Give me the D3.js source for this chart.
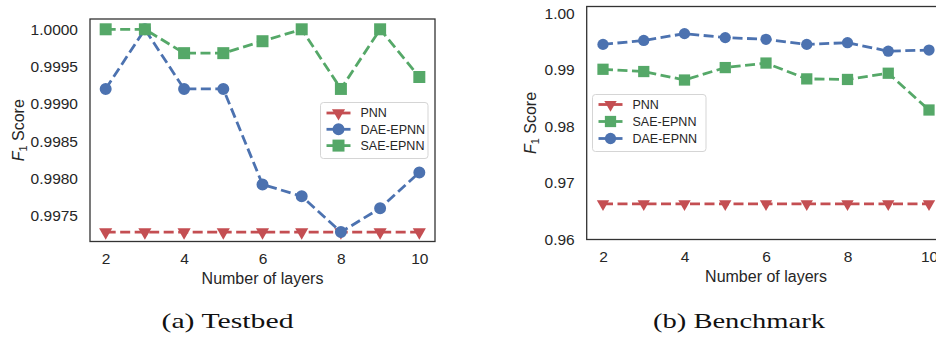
<!DOCTYPE html>
<html>
<head>
<meta charset="utf-8">
<script src="https://cdn.jsdelivr.net/npm/d3@7"></script>
<style>
  html, body { margin: 0; padding: 0; background: #fff; }
  svg { display: block; }
</style>
</head>
<body>
<script>
// number of layers, shared by both panels
const layers = [2, 3, 4, 5, 6, 7, 8, 9, 10];
const xTicks = [2, 4, 6, 8, 10];

// (a) Testbed
const testbedPNN = [0.99728, 0.99728, 0.99728, 0.99728, 0.99728, 0.99728, 0.99728, 0.99728, 0.99728];
const testbedDAE = [0.99920, 1.00000, 0.99920, 0.99920, 0.99792, 0.99776, 0.99728, 0.99760, 0.99808];
const testbedSAE = [1.00000, 1.00000, 0.99968, 0.99968, 0.99984, 1.00000, 0.99920, 1.00000, 0.99936];
const testbedTicks = [0.9975, 0.9980, 0.9985, 0.9990, 0.9995, 1.0000];

// (b) Benchmark
const benchPNN = [0.9663, 0.9663, 0.9663, 0.9663, 0.9663, 0.9663, 0.9663, 0.9663, 0.9663];
const benchSAE = [0.9901, 0.9897, 0.9882, 0.9904, 0.9912, 0.9884, 0.9883, 0.9894, 0.9829];
const benchDAE = [0.9945, 0.9952, 0.9964, 0.9957, 0.9954, 0.9945, 0.9948, 0.9933, 0.9935];
const benchTicks = [0.96, 0.97, 0.98, 0.99, 1.00];

const red = "#C44E52", blue = "#4C72B0", green = "#55A868";

const svg = d3.select("body").append("svg")
    .attr("width", 936)
    .attr("height", 339);

// one panel
function panel(opt) {
    const x = d3.scaleLinear().domain([1.6, 10.4]).range([opt.left, opt.right]);
    const y = d3.scaleLinear().domain(opt.ydomain).range([opt.bottom, opt.top]);
    const g = svg.append("g");

    // y axis labels, no tick marks
    g.append("g")
        .attr("transform", `translate(${opt.left},0)`)
        .call(d3.axisLeft(y).tickValues(opt.yticks).tickFormat(d3.format(opt.yfmt))
            .tickSize(0).tickPadding(12))
        .call(a => a.select(".domain").remove())
        .selectAll("text")
            .attr("font-family", "Liberation Sans, Arial, sans-serif")
            .attr("font-size", 15.5)
            .attr("fill", "#262626");

    g.append("g")
        .attr("transform", `translate(0,${opt.bottom})`)
        .call(d3.axisBottom(x).tickValues(xTicks).tickSize(0).tickPadding(11))
        .call(a => a.select(".domain").remove())
        .selectAll("text")
            .attr("font-family", "Liberation Sans, Arial, sans-serif")
            .attr("font-size", 15.5)
            .attr("fill", "#262626");

    // series
    opt.series.forEach(s => {
        const pts = layers.map((l, i) => [l, s.values[i]]);
        g.append("path")
            .datum(pts)
            .attr("fill", "none")
            .attr("stroke", s.color)
            .attr("stroke-width", 2.8)
            .attr("stroke-dasharray", "10,4.5")
            .attr("d", d3.line().x(d => x(d[0])).y(d => y(d[1])));
        g.selectAll(null)
            .data(pts)
            .join("path")
                .attr("transform", d => `translate(${x(d[0])},${y(d[1])})` + (s.flip ? " rotate(180)" : ""))
                .attr("d", d3.symbol(s.symbol, s.size * opt.mscale)())
                .attr("fill", s.color);
    });

    // frame
    g.append("rect")
        .attr("x", opt.left).attr("y", opt.top)
        .attr("width", opt.right - opt.left).attr("height", opt.bottom - opt.top)
        .attr("fill", "none").attr("stroke", "#333").attr("stroke-width", 1.3);

    // axis titles
    g.append("text")
        .attr("x", (opt.left + opt.right) / 2).attr("y", opt.bottom + 42)
        .attr("text-anchor", "middle")
        .attr("font-family", "Liberation Sans, Arial, sans-serif")
        .attr("font-size", 16).attr("fill", "#262626")
        .text("Number of layers");

    const yl = g.append("text")
        .attr("transform", `translate(${opt.ylabelX},${(opt.top + opt.bottom) / 2}) rotate(-90)`)
        .attr("text-anchor", "middle")
        .attr("font-family", "Liberation Sans, Arial, sans-serif")
        .attr("font-size", 16).attr("fill", "#262626");
    yl.append("tspan").attr("font-style", "italic").text("F");
    yl.append("tspan").attr("font-size", 11).attr("dy", 3).text("1");
    yl.append("tspan").attr("dy", -3).text(" Score");

    // legend
    const lg = opt.legend;
    g.append("rect")
        .attr("x", lg.x).attr("y", lg.y).attr("width", lg.w).attr("height", lg.h)
        .attr("rx", 3)
        .attr("fill", "#fff").attr("fill-opacity", 0.85)
        .attr("stroke", "#d5d5d5").attr("stroke-width", 1);
    lg.order.forEach((s, i) => {
        const cy = lg.rowY + i * lg.step;
        g.append("line")
            .attr("x1", lg.x + 6).attr("x2", lg.x + 30)
            .attr("y1", cy).attr("y2", cy)
            .attr("stroke", s.color).attr("stroke-width", 2.8);
        g.append("path")
            .attr("transform", `translate(${lg.x + 18},${cy})` + (s.flip ? " rotate(180)" : ""))
            .attr("d", d3.symbol(s.symbol, s.size * opt.mscale)())
            .attr("fill", s.color);
        g.append("text")
            .attr("x", lg.x + 40).attr("y", cy).attr("dy", "0.35em")
            .attr("font-family", "Liberation Sans, Arial, sans-serif")
            .attr("font-size", 12.5).attr("fill", "#262626")
            .text(s.name);
    });

    // caption
    svg.append("text")
        .attr("x", opt.capX).attr("y", 328)
        .attr("font-family", "Liberation Serif, Times New Roman, serif")
        .attr("font-size", 21)
        .attr("textLength", opt.capW)
        .attr("lengthAdjust", "spacingAndGlyphs")
        .attr("fill", "#111")
        .text(opt.caption);
}

const sPNNa = {name: "PNN", values: testbedPNN, color: red, symbol: d3.symbolTriangle, size: 75, flip: true};
const sDAEa = {name: "DAE-EPNN", values: testbedDAE, color: blue, symbol: d3.symbolCircle, size: 113};
const sSAEa = {name: "SAE-EPNN", values: testbedSAE, color: green, symbol: d3.symbolSquare, size: 144};

panel({
    left: 90, right: 435, top: 19, bottom: 241.5,
    ydomain: [0.997154, 1.000138], yticks: testbedTicks, yfmt: ".4f",
    mscale: 1, ylabelX: 24,
    series: [sPNNa, sDAEa, sSAEa],
    legend: {x: 320.5, y: 102.5, w: 107.5, h: 56, rowY: 113, step: 16.3, order: [sPNNa, sDAEa, sSAEa]},
    caption: "(a) Testbed", capX: 161.5, capW: 132
});

const sPNNb = {name: "PNN", values: benchPNN, color: red, symbol: d3.symbolTriangle, size: 75, flip: true};
const sSAEb = {name: "SAE-EPNN", values: benchSAE, color: green, symbol: d3.symbolSquare, size: 144};
const sDAEb = {name: "DAE-EPNN", values: benchDAE, color: blue, symbol: d3.symbolCircle, size: 113};

panel({
    left: 586.7, right: 945.3, top: 6.5, bottom: 239.5,
    ydomain: [0.96, 1.0012], yticks: benchTicks, yfmt: ".2f",
    mscale: 0.88, ylabelX: 536,
    series: [sPNNb, sSAEb, sDAEb],
    legend: {x: 592.5, y: 94.5, w: 113.5, h: 57, rowY: 104.5, step: 17, order: [sPNNb, sSAEb, sDAEb]},
    caption: "(b) Benchmark", capX: 653, capW: 172
});
</script>
</body>
</html>
